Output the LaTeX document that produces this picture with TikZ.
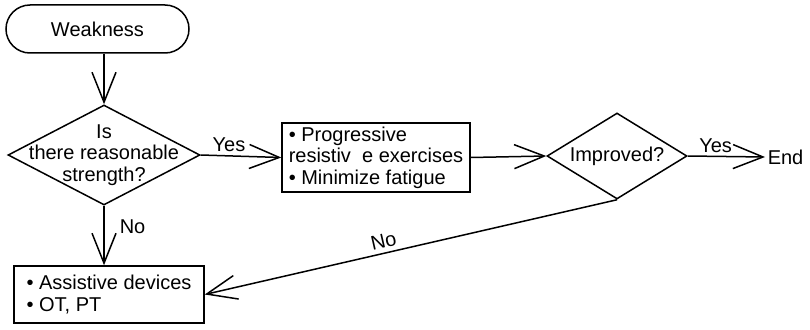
\documentclass[tikz,border=0pt]{standalone}
\usepackage{fontspec}
\setmainfont{Liberation Sans}
\usetikzlibrary{shapes.geometric,arrows.meta}
\begin{document}
\begin{tikzpicture}[x=1pt,y=-1pt,line width=1.5pt,
  every node/.style={font=\fontsize{20pt}{21.5pt}\selectfont},
  flow/.style={-{Straight Barb[length=30pt,width=24pt]}},
  term/.style={draw,rounded corners=24pt,minimum width=183pt,minimum height=48pt,inner sep=0pt},
  dia/.style={draw,diamond,inner sep=0pt},
  stepbox/.style={draw,align=left,inner sep=0pt},
  lbl/.style={inner sep=3pt}]
\useasboundingbox (0,0) rectangle (810,329);

% nodes
\node[term] (w) at (97.5,29) {Weakness};
\node[dia,minimum width=192pt,minimum height=100pt] (q1) at (104,155) {};
\node[align=center] (q1t) at (q1) {Is\\there reasonable\\strength?};
\node[stepbox,minimum width=188pt,minimum height=69pt] (b2) at (376,157.5)
  {• Progressive\\resistiv\ \ e exercises\\• Minimize fatigue};
\node[dia,minimum width=140pt,minimum height=86pt] (q2) at (617,156) {};
\node (q2t) at (q2) {Improved?};
\node[anchor=west,inner sep=2pt] (end) at (765,157) {End};
\node[stepbox,minimum width=190pt,minimum height=57pt] (b3) at (109,294.5)
  {• Assistive devices\\• OT, PT};

% connectors
\draw[flow] (q1.north |- w.south) -- (q1.north);
\draw[flow] (q1.east) -- (b2.west) node[lbl,pos=0.35,above] {Yes};
\draw[flow] (b2.east) -- (q2.west);
\draw[flow] (q2.east) -- (end.west) node[lbl,pos=0.36,above] {Yes};
\draw[flow] (q1.south) -- (q1.south |- b3.north) node[lbl,pos=0.35,right,xshift=12pt] {No};
\draw[flow] (q2.south) -- (b3.east) node[inner sep=4pt,pos=0.56,sloped,above] {No};
\end{tikzpicture}
\end{document}
